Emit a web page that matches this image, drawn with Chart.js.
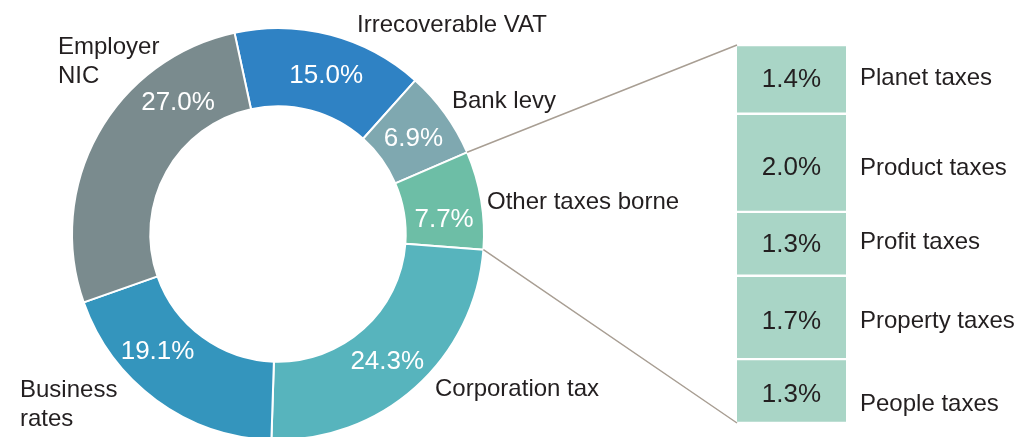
<!DOCTYPE html>
<html lang="en">
<head>
    <meta charset="UTF-8">
    <title>Taxes borne breakdown</title>
    <script src="https://cdn.jsdelivr.net/npm/chart.js"></script>
    <style>
        html, body { margin: 0; padding: 0; background: #fff; overflow: hidden; width: 1016px; height: 437px; }
        canvas { position: absolute; left: 0; top: 0; }
    </style>
</head>
<body>
    <canvas id="donut" width="1016" height="460"></canvas>
    <canvas id="stack" width="1016" height="437"></canvas>
    <script>
        // main doughnut
        const mainLabels = ['Irrecoverable VAT', 'Bank levy', 'Other taxes borne', 'Corporation tax', 'Business rates', 'Employer NIC'];
        const mainValues = [15.0, 6.9, 7.7, 24.3, 19.1, 27.0];
        const mainColors = ['#2f82c4', '#7fa8b0', '#6dbea6', '#57b4bd', '#3495bd', '#7a8b8e'];

        // breakdown of "Other taxes borne"
        const otherLabels = ['Planet taxes', 'Product taxes', 'Profit taxes', 'Property taxes', 'People taxes'];
        const otherValues = [1.4, 2.0, 1.3, 1.7, 1.3];

        const FONT = '"Liberation Sans", Arial, Helvetica, sans-serif';
        const TEXT = '#231f20';

        // label placement (layout only)
        const outerText = [
            { lines: ['Irrecoverable VAT'], x: 357, y: 25 },
            { lines: ['Bank levy'], x: 452, y: 101 },
            { lines: ['Other taxes borne'], x: 487, y: 202 },
            { lines: ['Corporation tax'], x: 435, y: 389 },
            { lines: ['Business', 'rates'], x: 20, y: 390 },
            { lines: ['Employer', 'NIC'], x: 58, y: 47 }
        ];
        const pctAngleShift = [2, 0, 4, 1, 10, 24];
        const valueNudge = [0, 5, 1, 4, 4];
        const sideNudge = [-1, 6, -1, 4, 13];

        const donutLabels = {
            id: 'donutLabels',
            afterDatasetsDraw(chart) {
                const ctx = chart.ctx;
                const arcs = chart.getDatasetMeta(0).data;
                ctx.save();
                ctx.textBaseline = 'middle';
                ctx.font = '26px ' + FONT;
                ctx.fillStyle = '#fff';
                ctx.textAlign = 'center';
                arcs.forEach((arc, i) => {
                    const a = (arc.startAngle + arc.endAngle) / 2 + pctAngleShift[i] * Math.PI / 180;
                    const r = (arc.innerRadius + arc.outerRadius) / 2;
                    ctx.fillText(mainValues[i].toFixed(1) + '%', arc.x + r * Math.cos(a), arc.y + r * Math.sin(a) + 2);
                });
                ctx.font = '24px ' + FONT;
                ctx.fillStyle = TEXT;
                ctx.textAlign = 'left';
                outerText.forEach(t => {
                    t.lines.forEach((line, k) => ctx.fillText(line, t.x, t.y + k * 29));
                });
                ctx.restore();
            }
        };

        const donutChart = new Chart(document.getElementById('donut'), {
            type: 'doughnut',
            data: {
                labels: mainLabels,
                datasets: [{
                    data: mainValues,
                    backgroundColor: mainColors,
                    borderColor: '#fff',
                    borderWidth: 2
                }]
            },
            options: {
                responsive: false,
                animation: false,
                rotation: -12.2,
                cutout: '62%',
                layout: { padding: { left: 71, right: 531, top: 27, bottom: 19 } },
                plugins: { legend: { display: false }, tooltip: { enabled: false } }
            },
            plugins: [donutLabels]
        });

        const stackLabels = {
            id: 'stackLabels',
            afterDatasetsDraw(chart) {
                const ctx = chart.ctx;
                const area = chart.chartArea;
                const arc = donutChart.getDatasetMeta(0).data[2];
                ctx.save();
                // connector lines from the "Other taxes borne" slice to the stacked bar
                ctx.strokeStyle = '#a89e93';
                ctx.lineWidth = 1.5;
                ctx.beginPath();
                ctx.moveTo(arc.x + arc.outerRadius * Math.cos(arc.startAngle), arc.y + arc.outerRadius * Math.sin(arc.startAngle));
                ctx.lineTo(area.left, area.top);
                ctx.moveTo(arc.x + arc.outerRadius * Math.cos(arc.endAngle), arc.y + arc.outerRadius * Math.sin(arc.endAngle));
                ctx.lineTo(area.left, area.bottom);
                ctx.stroke();

                ctx.textBaseline = 'middle';
                chart.data.datasets.forEach((ds, i) => {
                    const bar = chart.getDatasetMeta(i).data[0];
                    const cy = (bar.y + bar.base) / 2;
                    ctx.fillStyle = TEXT;
                    ctx.font = '26px ' + FONT;
                    ctx.textAlign = 'center';
                    ctx.fillText(otherValues[i].toFixed(1) + '%', bar.x, cy + valueNudge[i]);
                    ctx.font = '24px ' + FONT;
                    ctx.textAlign = 'left';
                    ctx.fillText(otherLabels[i], area.right + 14, cy + sideNudge[i]);
                });
                ctx.restore();
            }
        };

        new Chart(document.getElementById('stack'), {
            type: 'bar',
            data: {
                labels: ['Other taxes borne'],
                datasets: otherLabels.map((name, i) => ({
                    label: name,
                    data: [otherValues[i]],
                    backgroundColor: '#a9d5c6',
                    borderColor: '#fff',
                    borderWidth: { top: 1.5, bottom: 1.5, left: 0, right: 0 },
                    borderSkipped: false,
                    categoryPercentage: 1,
                    barPercentage: 1
                }))
            },
            options: {
                responsive: false,
                animation: false,
                layout: { padding: { left: 737, right: 170, top: 45, bottom: 14 } },
                scales: {
                    x: { stacked: true, display: false },
                    y: { stacked: true, display: false, min: 0, max: 7.7, reverse: true }
                },
                plugins: { legend: { display: false }, tooltip: { enabled: false } }
            },
            plugins: [stackLabels]
        });
    </script>
</body>
</html>
